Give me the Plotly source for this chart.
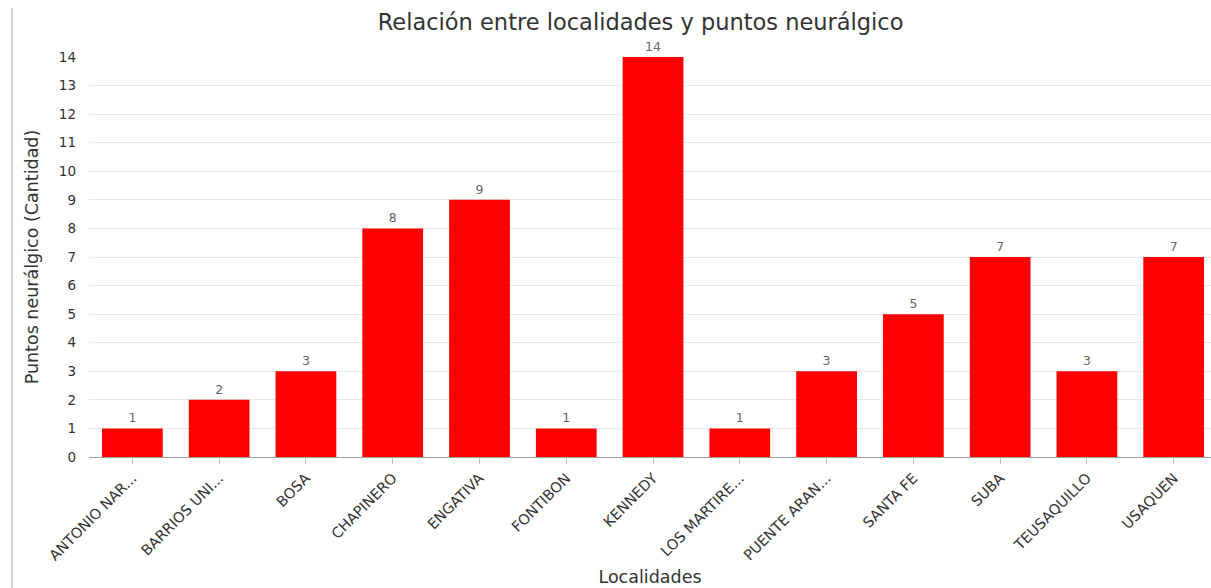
import plotly.graph_objects as go

localidades = ["ANTONIO NAR...", "BARRIOS UNI...", "BOSA", "CHAPINERO", "ENGATIVA",
               "FONTIBON", "KENNEDY", "LOS MARTIRE...", "PUENTE ARAN...", "SANTA FE",
               "SUBA", "TEUSAQUILLO", "USAQUEN"]
cantidad = [1, 2, 3, 8, 9, 1, 14, 1, 3, 5, 7, 3, 7]
y_ticks = list(range(0, 15))

W, H = 1211, 588
L, R, T, B = 89, 0, 57, 131
plot_w = W - L - R

fig = go.Figure(go.Bar(
    x=localidades,
    y=cantidad,
    marker=dict(color="#ff0000", line=dict(width=0)),
    width=0.7,
    text=[str(v) for v in cantidad],
    textposition="outside",
    textfont=dict(family="DejaVu Sans", size=12.5, color="#666666"),
    cliponaxis=False,
))

fig.update_layout(
    width=W, height=H,
    margin=dict(l=L, r=R, t=T, b=B),
    paper_bgcolor="white",
    plot_bgcolor="white",
    showlegend=False,
    title=dict(
        text="Relación entre localidades y puntos neurálgico",
        x=0.529, xanchor="center", y=0.962, yanchor="middle",
        font=dict(family="DejaVu Sans", size=22.5, color="#333333"),
    ),
    xaxis=dict(
        range=[-0.5, 12.43],
        tickangle=-45,
        tickfont=dict(family="DejaVu Sans", size=14.5, color="#333333"),
        showline=True, linecolor="#a0a0a0", linewidth=1,
        ticks="outside", ticklen=6, tickcolor="#c0c0c0",
        showgrid=False,
        title=dict(text="Localidades", standoff=8,
                   font=dict(family="DejaVu Sans", size=17.5, color="#333333")),
    ),
    yaxis=dict(
        range=[0, 14],
        tickvals=y_ticks,
        tickfont=dict(family="DejaVu Sans", size=13.5, color="#333333"),
        gridcolor="#e8e8e8", gridwidth=1,
        zeroline=False,
        ticklabelstandoff=12,
        title=dict(text="Puntos neurálgico (Cantidad)", standoff=15,
                   font=dict(family="DejaVu Sans", size=17.5, color="#333333")),
    ),
    shapes=[dict(
        type="line", xref="paper", yref="paper",
        x0=(12 - L) / plot_w, x1=(12 - L) / plot_w,
        y0=-B / (H - T - B), y1=1 + (T - 8) / (H - T - B),
        line=dict(color="#d8d8d8", width=2),
    )],
)

fig.write_html("out.html")
